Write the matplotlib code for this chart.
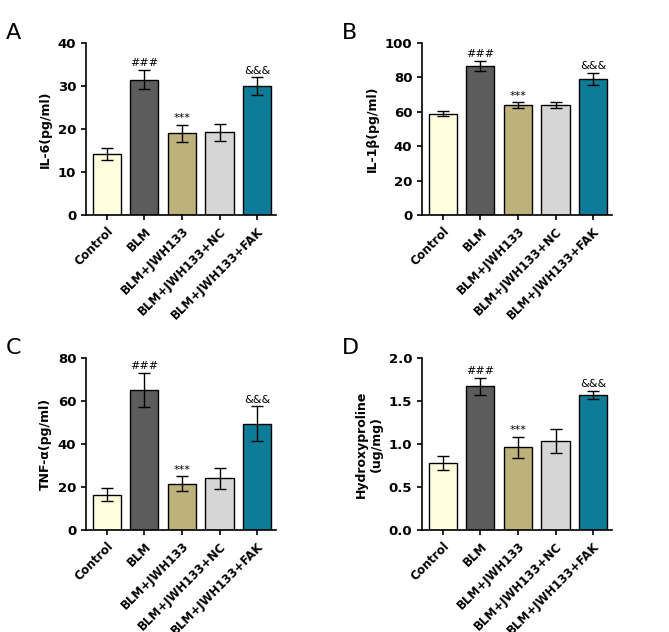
import matplotlib
matplotlib.use("Agg")
import matplotlib.pyplot as plt
import numpy as np

categories = ["Control", "BLM", "BLM+JWH133", "BLM+JWH133+NC", "BLM+JWH133+FAK"]
il6 = [14.2, 31.5, 19.0, 19.2, 30.0]
il6_err = [1.4, 2.2, 2.0, 2.0, 2.0]
il1b = [59.0, 86.5, 64.0, 64.0, 79.0]
il1b_err = [1.5, 3.0, 1.5, 1.5, 3.5]
tnf = [16.5, 65.0, 21.5, 24.0, 49.5]
tnf_err = [3.0, 8.0, 3.5, 5.0, 8.0]
hyp = [0.78, 1.67, 0.96, 1.04, 1.57]
hyp_err = [0.08, 0.10, 0.12, 0.14, 0.05]
marks = ["", "###", "***", "", "&&&"]

colors = ["#FFFFE0", "#5C5C5C", "#BDB27A", "#D6D6D6", "#0E7C98"]

fig = plt.figure(figsize=(6.69, 6.32), dpi=100)
W, H = 669, 632
panels = [
    ("A", il6, il6_err, "IL-6(pg/ml)", 40, 10, 86, 43),
    ("B", il1b, il1b_err, "IL-1β(pg/ml)", 100, 20, 422, 43),
    ("C", tnf, tnf_err, "TNF-α(pg/ml)", 80, 20, 86, 358),
    ("D", hyp, hyp_err, "Hydroxyproline\n(ug/mg)", 2.0, 0.5, 422, 358),
]
for letter, vals, errs, ylab, ymax, step, x0, y0 in panels:
    ax = fig.add_axes([x0 / W, 1 - (y0 + 172) / H, 190 / W, 172 / H])
    x = range(len(categories))
    ax.bar(x, vals, width=0.75, color=colors, edgecolor="black", linewidth=1.0,
           yerr=errs, capsize=4, error_kw=dict(elinewidth=1, capthick=1, ecolor="black"))
    ax.set_ylim(0, ymax)
    ax.set_xlim(-0.55, 4.5)
    ticks = np.arange(0, ymax + step / 2, step)
    ax.set_yticks(ticks)
    if ymax == 2.0:
        ax.set_yticklabels([f"{v:.1f}" for v in ticks])
    ax.set_xticks(list(x))
    ax.set_xticklabels(categories, rotation=45, ha="right", rotation_mode="anchor",
                       fontweight="bold", fontsize=8.5)
    for lbl in ax.get_yticklabels():
        lbl.set_fontweight("bold")
    ax.tick_params(axis="y", labelsize=9.5, width=1.2)
    ax.tick_params(axis="x", width=1.2)
    ax.set_ylabel(ylab, fontweight="bold", fontsize=9)
    for s in ["top", "right"]:
        ax.spines[s].set_visible(False)
    for s in ["left", "bottom"]:
        ax.spines[s].set_linewidth(1.2)
    for i, m in enumerate(marks):
        if m:
            ax.text(i, vals[i] + errs[i] + ymax * 0.01, m, ha="center", va="bottom", fontsize=8)
    fig.text((x0 - 80) / W, 1 - (y0 - 20) / H, letter, fontsize=16, va="top")

fig.savefig("out.png", dpi=100)
